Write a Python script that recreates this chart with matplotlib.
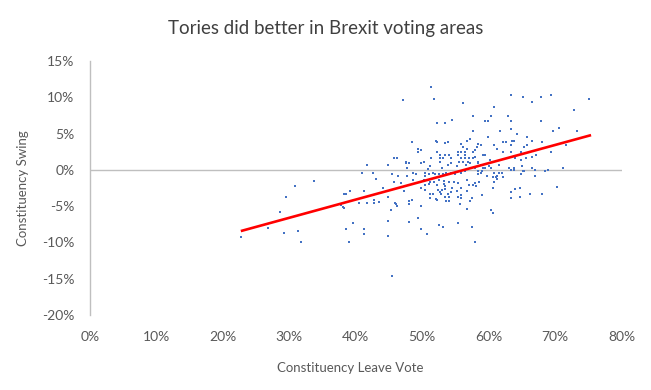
import matplotlib
matplotlib.use("Agg")
import matplotlib.pyplot as plt
from matplotlib.ticker import PercentFormatter, MultipleLocator

# constituency leave vote (%) and swing (%)
leave_vote = [
    22.8, 26.8, 29.2, 31.3, 31.7, 28.6, 29.5, 30.8, 33.7, 38.2, 38.5, 39.1, 37.8, 38.1,
    38.2, 39.6, 38.5, 39.0, 41.2, 41.2, 40.5, 41.7, 42.7, 43.5, 41.2, 42.7, 40.9, 42.6,
    43.0, 41.7, 45.4, 47.1, 51.3, 51.8, 44.1,
    52.2, 53.4, 54.5, 48.4, 52.1, 52.2, 53.9, 53.4, 49.4, 49.8, 49.4, 52.2, 52.7, 53.4,
    54.0, 55.4, 55.4, 52.7, 53.1, 54.3, 45.8, 46.2, 47.5, 47.5, 48.0, 50.3, 51.3, 52.7,
    44.8, 49.8, 53.9, 54.3, 51.2, 47.7, 53.0, 55.2, 50.9, 55.5,
    63.4, 65.2, 66.5, 56.1, 60.8, 57.6, 60.3, 62.9, 59.4, 59.9, 63.4, 63.4, 61.7, 57.6,
    64.3, 59.9, 65.8, 66.5, 56.7, 57.2, 63.5, 63.8, 62.2, 62.6, 58.4, 55.8, 58.8, 60.8,
    61.3, 63.4, 56.7, 56.1, 57.9, 58.2, 57.6, 55.8, 56.4, 56.4, 59.1, 59.4, 62.2, 63.4,
    64.9, 55.8, 56.4, 57.0, 57.6, 57.9, 58.4, 58.4, 58.8, 56.1, 56.9, 56.6, 57.2, 60.2,
    61.6, 64.0, 64.9, 65.6, 66.5, 57.9, 59.1, 60.0, 59.4, 63.1, 63.8, 65.0, 66.5, 60.3,
    45.4, 46.3, 47.7, 48.6, 49.1, 50.4, 50.4, 51.0, 51.6, 51.9, 52.5, 53.1, 53.6, 54.3,
    54.9, 45.7, 46.8, 48.6, 50.3, 51.2, 51.8, 50.4, 51.0, 52.5, 53.3, 54.0, 54.8, 55.4,
    52.2, 53.3, 53.4, 49.8, 50.4, 47.2, 52.4, 53.0, 53.4, 54.5, 55.2, 51.2, 51.6, 52.7,
    52.8, 53.9, 54.3, 44.8, 51.2, 52.1, 52.2, 53.4, 54.0, 53.6, 54.0, 55.4, 48.0, 48.4,
    48.0, 45.9, 46.0, 46.2, 49.8, 45.3, 49.4, 44.8, 48.0, 52.5, 53.1, 55.4, 49.8, 50.7,
    44.8,
    55.8, 56.4, 58.4, 58.4, 58.8, 59.0, 59.7, 60.8, 61.6, 62.0, 60.6, 61.1, 61.3, 61.3,
    62.2, 63.4, 63.8, 65.2, 65.3, 64.9, 67.0, 56.7, 60.8, 57.9, 58.5, 57.0, 57.6, 58.1,
    55.8, 60.6, 64.7, 64.0, 63.4, 56.7, 55.8, 59.0, 66.2, 64.7, 63.4, 57.5, 57.2, 55.8,
    55.7, 56.7, 60.3, 60.6, 57.5, 57.9,
    67.9, 69.4, 75.1, 72.8, 67.9, 70.6, 69.7, 73.3, 68.0, 71.6, 69.4, 71.2, 68.5, 68.9,
    68.0, 70.3, 65.3, 65.8, 66.5, 67.1, 66.5, 67.0,
]
swing = [
    -9.2, -8.0, -8.7, -8.4, -9.9, -5.8, -3.8, -2.2, -1.6, -3.3, -3.4, -2.9, -4.9, -5.1,
    -5.3, -7.4, -8.2, -10.0, -8.2, -8.8, -4.6, -4.6, -4.6, -4.5, -2.9, -4.1, -0.5, -0.5,
    -1.3, 0.7, -14.6, 9.6, 11.5, 9.8, -2.5,
    6.5, 6.5, 6.9, 3.8, 4.0, 3.8, 3.8, 3.7, 2.9, 2.8, 2.5, 2.4, 2.1, 2.1,
    2.0, 2.5, 2.0, 1.7, 1.7, 1.7, 1.7, 1.6, 1.1, 0.9, 0.9, 1.1, 1.6, 1.1,
    0.7, 0.9, 0.7, 0.9, 0.5, 0.3, 0.3, 0.5, 0.1, 1.1,
    10.4, 10.0, 9.4, 9.2, 8.7, 7.4, 7.4, 7.4, 6.7, 6.7, 6.7, 5.7, 5.4, 5.3,
    5.0, 4.5, 4.5, 4.0, 4.0, 4.2, 4.0, 4.0, 3.8, 3.8, 3.6, 3.6, 3.4, 3.4,
    2.9, 3.4, 2.9, 3.2, 2.8, 3.1, 2.5, 2.5, 2.4, 2.0, 2.0, 2.0, 2.4, 2.5,
    2.5, 1.6, 1.6, 1.6, 1.6, 1.8, 1.1, 0.9, 0.7, 1.1, 1.1, 0.7, 0.9, 1.3,
    0.7, 1.6, 1.3, 1.6, 1.8, 0.3, 0.3, 0.5, 0.2, 0.3, 0.2, 0.5, 0.3, 0.2,
    -0.6, -0.8, -0.8, -0.4, -0.6, -0.4, -0.8, -0.6, -0.4, -0.6, -0.6, -0.6, -0.4, -0.4,
    -0.6, -1.7, -1.8, -1.4, -1.4, -1.7, -1.7, -2.1, -1.9, -1.4, -1.5, -1.7, -1.7, -1.8,
    -2.1, -1.9, -2.2, -2.5, -2.8, -2.9, -2.8, -2.8, -2.6, -2.5, -2.9, -3.3, -3.3, -3.0,
    -3.3, -3.3, -3.0, -3.7, -3.9, -4.0, -4.1, -3.7, -3.7, -4.3, -4.3, -3.7, -4.3, -4.1,
    -4.7, -4.6, -4.7, -5.0, -5.0, -5.5, -6.6, -7.0, -7.2, -7.6, -7.9, -7.4, -8.2, -8.8,
    -9.1,
    -0.4, -0.1, -0.1, -0.6, -0.4, -0.1, -0.8, -0.4, -0.4, -0.4, -1.0, -1.0, -0.8, -1.2,
    -1.0, 0.0, 0.0, -0.1, -0.1, -0.6, -0.8, -1.4, -1.7, -1.8, -1.7, -2.1, -2.1, -2.2,
    -2.5, -2.5, -2.5, -2.6, -3.0, -2.9, -3.5, -3.5, -3.3, -3.7, -3.9, -3.9, -4.3, -3.9,
    -4.7, -5.4, -5.5, -5.9, -7.9, -9.9,
    10.0, 10.3, 9.8, 8.2, 6.7, 5.8, 5.3, 5.3, 3.8, 3.4, 2.5, 0.3, -0.1, 0.0,
    -3.3, -2.4, 3.2, 3.4, 1.8, 2.0, 0.3, 0.0,
]

# linear trend line end points
trend_x = [22.9, 75.2]
trend_y = [-8.4, 4.75]

title = "Tories did better in Brexit voting areas"
x_title = "Constituency Leave Vote"
y_title = "Constituency Swing"

text_col = "#595959"
grid_col = "#BFBFBF"
plt.rcParams['font.family'] = ['Lato', 'DejaVu Sans']
plt.rcParams['axes.unicode_minus'] = False

fig = plt.figure(figsize=(6.51, 3.90), dpi=100)
ax = fig.add_axes([0.138, 0.193, 0.817, 0.65])

ax.axhline(0, color=grid_col, lw=1, zorder=1)
ax.scatter(leave_vote, swing, s=4, marker='s', color="#4472C4", linewidths=0, zorder=2)
ax.plot(trend_x, trend_y, color="#FF0000", lw=1.9, zorder=3)

ax.set_xlim(0, 80)
ax.set_ylim(-20, 15)
ax.xaxis.set_major_locator(MultipleLocator(10))
ax.yaxis.set_major_locator(MultipleLocator(5))
ax.xaxis.set_major_formatter(PercentFormatter(decimals=0))
ax.yaxis.set_major_formatter(PercentFormatter(decimals=0))

for side in ["top", "right", "bottom"]:
    ax.spines[side].set_visible(False)
ax.spines["left"].set_color(grid_col)
ax.spines["left"].set_linewidth(1)

ax.tick_params(axis='both', length=0, labelsize=10, labelcolor=text_col)
ax.tick_params(axis='x', pad=12)
ax.tick_params(axis='y', pad=11)

ax.set_xlabel(x_title, fontsize=9.5, color=text_col)
ax.set_ylabel(y_title, fontsize=9.5, color=text_col)
ax.xaxis.set_label_coords(0.49, -0.186)
ax.yaxis.set_label_coords(-0.115, 0.5)

fig.text(0.5, 0.928, title, ha='center', va='center', fontsize=13.5, color="#404040")

fig.savefig("out.png", dpi=100)
